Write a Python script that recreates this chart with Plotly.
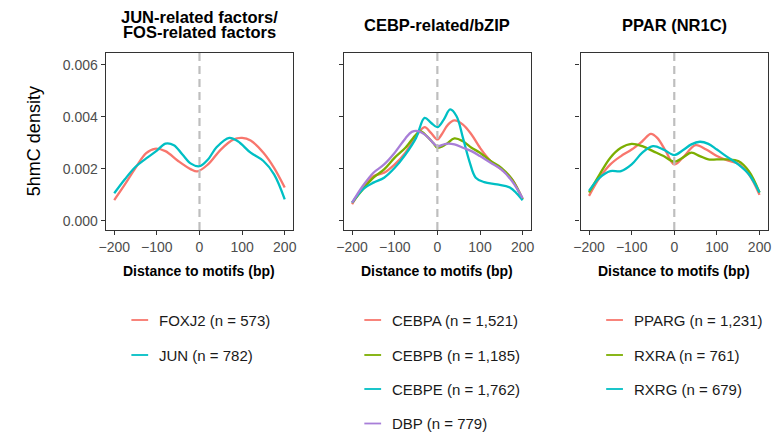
import plotly.graph_objects as go

W, H = 775, 434

# ---------------- data ----------------
panel_titles = [["JUN-related factors/", "FOS-related factors"], ["CEBP-related/bZIP"], ["PPAR (NR1C)"]]
x_ticks = [-200, -100, 0, 100, 200]
x_tick_labels = ["\u2212200", "\u2212100", "0", "100", "200"]
y_ticks = [0.000, 0.002, 0.004, 0.006]
y_tick_labels = ["0.000", "0.002", "0.004", "0.006"]

# Panel 1
foxj2_x = [-200, -175, -150, -125, -105, -80, -50, -20, -5, 20, 50, 80, 100, 120, 150, 175, 200]
foxj2_y = [0.0008, 0.0014, 0.00204, 0.0026, 0.00277, 0.00268, 0.0023, 0.00198, 0.0019, 0.00217,
           0.00274, 0.00313, 0.00319, 0.00309, 0.00262, 0.00204, 0.00128]
jun_x = [-200, -175, -150, -125, -100, -80, -60, -40, -20, 0, 20, 40, 70, 90, 120, 150, 175, 200]
jun_y = [0.00106, 0.0016, 0.00208, 0.0024, 0.0027, 0.00297, 0.00291, 0.00255, 0.0022, 0.0021,
         0.00236, 0.00283, 0.00319, 0.00306, 0.00262, 0.0023, 0.00179, 0.00083]

# Panel 2
cebpa_x = [-200, -175, -150, -125, -100, -75, -50, -30, -15, 0, 10, 25, 40, 60, 80, 100, 125, 150, 175, 200]
cebpa_y = [0.00064, 0.00128, 0.00172, 0.00185, 0.00217, 0.00262, 0.00326, 0.0036, 0.00338, 0.00313,
           0.00332, 0.0037, 0.00386, 0.0037, 0.00332, 0.00281, 0.0023, 0.00198, 0.0016, 0.00083]
cebpb_x = [-200, -175, -150, -125, -100, -75, -50, -40, -25, -10, 0, 20, 40, 60, 80, 100, 125, 150, 175, 200]
cebpb_y = [0.0007, 0.00121, 0.00166, 0.00198, 0.00243, 0.00281, 0.00332, 0.00345, 0.00326, 0.003,
           0.00281, 0.00294, 0.00317, 0.00306, 0.00281, 0.00262, 0.0023, 0.00204, 0.0016, 0.00083]
cebpe_x = [-200, -175, -150, -125, -100, -75, -50, -30, -15, 0, 15, 30, 45, 60, 75, 90, 110, 140, 170, 200]
cebpe_y = [0.0007, 0.00121, 0.00147, 0.00166, 0.00204, 0.00255, 0.00319, 0.00396, 0.00377, 0.0036,
           0.00389, 0.00428, 0.00402, 0.00319, 0.0023, 0.00166, 0.00149, 0.0014, 0.00128, 0.00079]
dbp_x = [-200, -175, -150, -125, -100, -75, -60, -45, -25, -10, 0, 20, 40, 60, 80, 100, 125, 150, 175, 200]
dbp_y = [0.0007, 0.00134, 0.00185, 0.00217, 0.00262, 0.00317, 0.00342, 0.00345, 0.00326, 0.003,
         0.00287, 0.00296, 0.00294, 0.00281, 0.00268, 0.00249, 0.00223, 0.00198, 0.00153, 0.00087]

# Panel 3
pparg_x = [-200, -175, -150, -125, -100, -75, -55, -40, -20, 0, 20, 50, 75, 100, 125, 150, 175, 200]
pparg_y = [0.00096, 0.00166, 0.00217, 0.00249, 0.00274, 0.00306, 0.00334, 0.00319, 0.00268, 0.00217,
           0.00243, 0.00291, 0.00274, 0.00249, 0.00232, 0.0022, 0.00179, 0.001]
rxra_x = [-200, -175, -150, -125, -100, -75, -50, -25, 0, 20, 40, 60, 80, 100, 125, 150, 175, 200]
rxra_y = [0.00109, 0.00179, 0.00243, 0.00281, 0.00296, 0.00287, 0.00268, 0.00249, 0.00227, 0.00243,
          0.00262, 0.00249, 0.00236, 0.00236, 0.00236, 0.0023, 0.00191, 0.00109]
rxrg_x = [-200, -175, -150, -125, -100, -75, -50, -25, 0, 20, 40, 60, 80, 100, 125, 150, 175, 200]
rxrg_y = [0.00115, 0.00166, 0.00191, 0.00191, 0.00217, 0.00262, 0.00287, 0.00274, 0.00253, 0.00271,
          0.00294, 0.00304, 0.00296, 0.00274, 0.00245, 0.00217, 0.00179, 0.00109]

RED, GREEN, CYAN, PURPLE = "#F8766D", "#7CAE00", "#00BFC4", "#A87ED8"

panels = [
    [("FOXJ2 (n = 573)", foxj2_x, foxj2_y, RED), ("JUN (n = 782)", jun_x, jun_y, CYAN)],
    [("CEBPA (n = 1,521)", cebpa_x, cebpa_y, RED), ("CEBPB (n = 1,185)", cebpb_x, cebpb_y, GREEN),
     ("CEBPE (n = 1,762)", cebpe_x, cebpe_y, CYAN), ("DBP (n = 779)", dbp_x, dbp_y, PURPLE)],
    [("PPARG (n = 1,231)", pparg_x, pparg_y, RED), ("RXRA (n = 761)", rxra_x, rxra_y, GREEN),
     ("RXRG (n = 679)", rxrg_x, rxrg_y, CYAN)],
]

# ---------------- layout geometry (pixels) ----------------
panel_left = [100, 341, 581]
panel_w = 190
plot_top, plot_bot = 53, 230
legend_line_x = [126, 362, 607]
legend_rows_y = [320, 355, 389, 423.5]

def px(x):
    return x / W

def py(y):
    return 1 - y / H

FONT = "Liberation Sans, Arial, sans-serif"
fig = go.Figure()

for i, series in enumerate(panels):
    ax = "" if i == 0 else str(i + 1)
    for name, xs, ys, col in series:
        fig.add_trace(go.Scatter(
            x=xs, y=ys, mode="lines", name=name, showlegend=False,
            line=dict(color=col, width=2.3, shape="spline", smoothing=1.0),
            xaxis="x" + ax, yaxis="y" + ax,
        ))
    xa = dict(
        domain=[px(panel_left[i]), px(panel_left[i] + panel_w)],
        range=[-220, 220], tickvals=x_ticks, ticktext=x_tick_labels,
        ticks="outside", ticklen=4, tickwidth=1, tickcolor="#333333",
        showline=True, linecolor="#333333", linewidth=1.2, mirror=True,
        showgrid=False, zeroline=False, anchor="y" + ax,
        tickfont=dict(family=FONT, size=14, color="#4D4D4D"),
    )
    ya = dict(
        domain=[py(plot_bot), py(plot_top)],
        range=[-0.00035, 0.00645], tickvals=y_ticks, ticktext=y_tick_labels,
        showticklabels=(i == 0),
        ticks="outside", ticklen=4, tickwidth=1, tickcolor="#333333",
        showline=True, linecolor="#333333", linewidth=1.2, mirror=True,
        showgrid=False, zeroline=False, anchor="x" + ax,
        tickfont=dict(family=FONT, size=14, color="#4D4D4D"),
    )
    fig.update_layout(**{"xaxis" + ax: xa, "yaxis" + ax: ya})

    # dashed reference line at motif centre
    fig.add_shape(type="line", xref="x" + ax, yref="y" + ax + " domain",
                  x0=0, x1=0, y0=0, y1=1,
                  line=dict(color="#BEBEBE", width=2.2, dash="8px,5px"), layer="above")

    cx = panel_left[i] + panel_w / 2
    # panel titles
    titles = panel_titles[i]
    ys_t = [16.5, 32.5] if len(titles) == 2 else [25]
    for t, yt in zip(titles, ys_t):
        fig.add_annotation(x=px(cx), y=py(yt), xref="paper", yref="paper", text="<b>" + t + "</b>",
                           showarrow=False, xanchor="center", yanchor="middle",
                           font=dict(family=FONT, size=16.5, color="#000000"))
    # x axis title
    fig.add_annotation(x=px(cx), y=py(271), xref="paper", yref="paper",
                       text="<b>Distance to motifs (bp)</b>", showarrow=False,
                       xanchor="center", yanchor="middle",
                       font=dict(family=FONT, size=14, color="#000000"))
    # legend
    for k, (name, xs, ys, col) in enumerate(series):
        yy = legend_rows_y[k]
        fig.add_shape(type="line", xref="paper", yref="paper",
                      x0=px(legend_line_x[i]), x1=px(legend_line_x[i] + 17),
                      y0=py(yy), y1=py(yy), line=dict(color=col, width=1.8))
        fig.add_annotation(x=px(legend_line_x[i] + 26), y=py(yy), xref="paper", yref="paper",
                           text=name, showarrow=False, xanchor="left", yanchor="middle",
                           font=dict(family=FONT, size=15, color="#1A1A1A"))

# y axis title
fig.add_annotation(x=px(27), y=py((plot_top + plot_bot) / 2), xref="paper", yref="paper",
                   text="5hmC density", showarrow=False, textangle=-90,
                   xanchor="center", yanchor="middle",
                   font=dict(family=FONT, size=18, color="#000000"))

fig.update_layout(
    width=W, height=H, margin=dict(l=0, r=0, t=0, b=0),
    paper_bgcolor="white", plot_bgcolor="white", showlegend=False,
)

fig.write_html("out.html")
